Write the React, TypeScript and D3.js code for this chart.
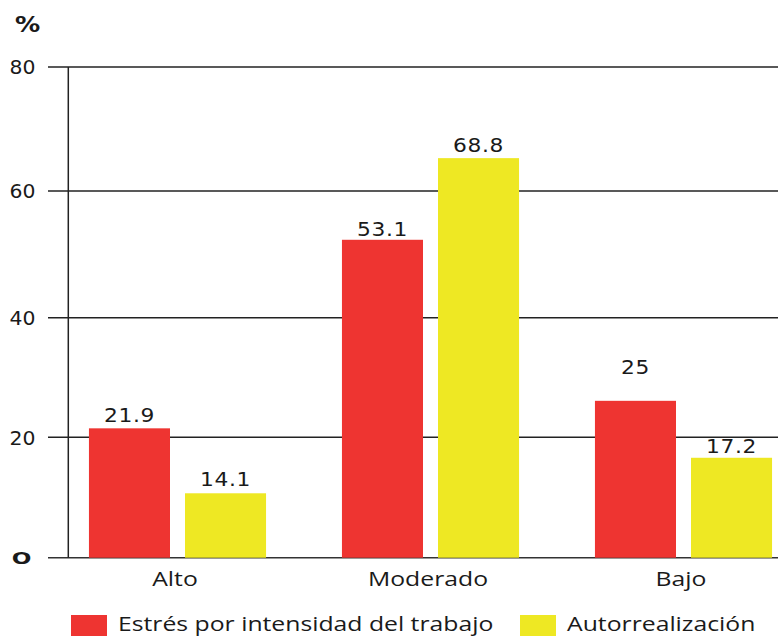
import React from 'react';
import * as d3 from 'd3';

// ---- data ----
const categories = ['Alto', 'Moderado', 'Bajo'];
const seriesNames = ['Estrés por intensidad del trabajo', 'Autorrealización'];
const estresValues = [21.5, 52.3, 26.1];
const autoValues = [10.7, 65.3, 16.6];
const estresLabels = ['21.9', '53.1', '25'];
const autoLabels = ['14.1', '68.8', '17.2'];
const yTicks = [0, 20, 40, 60, 80];
const yTickLabels = ['O', '20', '40', '60', '80'];

// ---- style / layout ----
const W = 778;
const H = 636;
const colors = ['#EE3431', '#EEE823'];
const ink = '#1a1a1a';
const labelLift = [[6, 7], [4, 6], [27, 5]];
const sansFont = "'Open Sans', 'Noto Sans', sans-serif";
const numFont = "'DejaVu Sans', Verdana, sans-serif";
const stretch = 1.27;

export default function App() {
  const y = d3.scaleLinear().domain(yTicks).range([557.7, 437.3, 317.7, 191, 67]);
  const x0 = d3.scaleBand<string>().domain(categories).range([51, 810]).paddingInner(0.3).paddingOuter(0.15);
  const x1 = d3.scaleBand<string>().domain(seriesNames).range([0, x0.bandwidth()]).paddingInner(0.15625).paddingOuter(0);
  const seriesValues = [estresValues, autoValues];
  const seriesLabels = [estresLabels, autoLabels];
  const axisX = 68.3;

  return (
    <svg width={W} height={H} style={{ position: 'absolute', left: 0, top: 0, background: '#fff' }}>
      <rect width={W} height={H} fill="#fff" />
      {/* gridlines */}
      {yTicks.map((t) => (
        <line key={t} x1={48} x2={W} y1={y(t)} y2={y(t)} stroke={t === 0 ? '#333' : '#222'} strokeWidth={1.5} />
      ))}
      {/* y axis */}
      <line x1={axisX} x2={axisX} y1={y(80)} y2={y(0)} stroke="#222" strokeWidth={1.5} />
      {/* tick labels */}
      {yTicks.map((t, i) =>
        i === 0 ? (
          <text key={t} transform={`translate(21.5,${y(t) + 6}) scale(1.4,1)`} textAnchor="middle" fontFamily={numFont} fontWeight="bold" fontSize={16.5} fill={ink}>
            {yTickLabels[i]}
          </text>
        ) : (
          <text key={t} transform={`translate(35.5,${y(t) + 7.3}) scale(1.03,1)`} textAnchor="end" fontFamily={numFont} fontSize={19.8} fill={ink}>
            {yTickLabels[i]}
          </text>
        )
      )}
      <text transform="translate(27.5,31.5) scale(1.2,1)" textAnchor="middle" fontFamily={numFont} fontWeight="bold" fontSize={21} fill={ink}>%</text>
      {/* bars */}
      {categories.map((c, ci) => (
        <g key={c} transform={`translate(${x0(c)},0)`}>
          {seriesNames.map((s, si) => {
            const v = seriesValues[si][ci];
            const bx = x1(s)!;
            const bw = x1.bandwidth();
            return (
              <g key={s}>
                <rect x={bx} y={y(v)} width={bw} height={y(0) - y(v)} fill={colors[si]} />
                <text transform={`translate(${bx + bw / 2},${y(v) - labelLift[ci][si]}) scale(1.1,1)`} textAnchor="middle" fontFamily={numFont} fontSize={19.8} letterSpacing={0.6} fill={ink}>
                  {seriesLabels[si][ci]}
                </text>
              </g>
            );
          })}
        </g>
      ))}
      {/* category labels */}
      {categories.map((c) => (
        <text key={c} transform={`translate(${x0(c)! + x0.bandwidth() / 2 - 2.5},585.5) scale(${stretch},1)`} textAnchor="middle" fontFamily={sansFont} fontSize={19.5} fill={ink}>
          {c}
        </text>
      ))}
      {/* legend */}
      {seriesNames.map((s, si) => {
        const lx = [71, 520][si];
        return (
          <g key={s}>
            <rect x={lx} y={615} width={36} height={22} fill={colors[si]} />
            <text transform={`translate(${lx + 47},631) scale(${stretch},1)`} fontFamily={sansFont} fontSize={19.5} fill={ink}>
              {s}
            </text>
          </g>
        );
      })}
    </svg>
  );
}
